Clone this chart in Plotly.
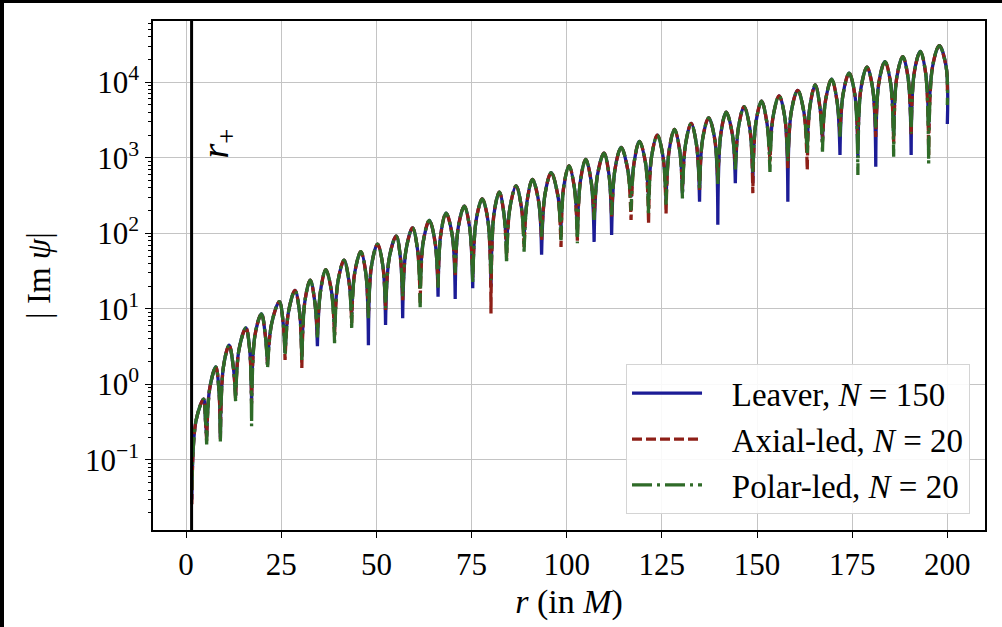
import plotly.graph_objects as go

# Radial range of the solution (in units of M)
r_plus = 1.44          # outer horizon
r_start = 1.5
r_end = 200.0

# Zeros of Im psi (radial positions of the cusps between lobes)
dip_r = [5.4, 9.0, 13.0, 17.2, 21.4, 26.0, 30.4, 34.5, 39.0, 43.5,
         47.9, 52.4, 56.9, 61.5, 66.2, 70.7, 75.3, 80.1, 84.2, 88.8,
         93.4, 98.5, 102.8, 107.2, 111.8, 116.9, 121.5, 126.1, 130.4, 134.9,
         139.7, 144.3, 148.9, 153.4, 158.1, 163.2, 167.2, 171.8, 176.5, 181.2,
         185.9, 190.5, 195.1]

# Lobe maxima (shared by the three solutions)
peak_r = [4.6, 7.8, 11.3, 15.7, 19.8, 24.5, 28.6, 32.6, 36.7, 41.5,
          45.9, 50.3, 55.2, 59.5, 63.9, 68.3, 73.1, 77.8, 82.3, 86.7,
          91.0, 95.9, 100.6, 105.0, 109.8, 114.3, 119.1, 123.8, 128.3, 132.7,
          137.3, 141.9, 146.6, 151.2, 155.8, 160.7, 165.3, 169.6, 174.2, 178.9,
          183.6, 188.3, 192.9, 197.9]
peak_val = [0.64, 1.7, 3.3, 5.6, 8.6, 12.5, 17.5, 24, 33, 44,
            57, 72, 92, 118, 148, 185, 228, 285, 350, 425,
            515, 635, 780, 950, 1150, 1370, 1650, 1990, 2380, 2850,
            3380, 4000, 4750, 5600, 6600, 7800, 9200, 11000, 13200, 15800,
            18700, 21800, 25500, 30500]

# Flanks of each lobe (left / right of the maximum) and their level
flank_l_r = [2.6, 6.2, 9.8, 13.9, 18.1, 22.5, 26.9, 31.2, 35.3, 39.9,
             44.3, 48.7, 53.4, 57.8, 62.3, 66.9, 71.5, 76.2, 80.9, 85.1,
             89.6, 94.3, 99.2, 103.6, 108.1, 112.7, 117.7, 122.3, 126.9, 131.2,
             135.7, 140.5, 145.1, 149.7, 154.2, 159.0, 163.9, 168.0, 172.6, 177.3,
             182.0, 186.7, 191.3, 196.1]
flank_r_r = [5.1, 8.6, 12.4, 16.7, 20.8, 25.5, 29.8, 33.8, 38.2, 42.8,
             47.2, 51.7, 56.3, 60.8, 65.4, 69.9, 74.5, 79.3, 83.5, 88.1,
             92.6, 97.6, 102.0, 106.4, 111.1, 116.0, 120.7, 125.3, 129.7, 134.1,
             138.9, 143.5, 148.1, 152.6, 157.3, 162.3, 166.5, 171.0, 175.7, 180.4,
             185.1, 189.7, 194.3, 199.7]
flank_val = [0.33, 0.88, 1.7, 2.9, 4.5, 6.5, 9.1, 12.5, 17, 23,
             30, 37, 48, 61, 77, 96, 119, 148, 182, 221,
             268, 330, 406, 494, 598, 712, 858, 1035, 1238, 1482,
             1758, 2080, 2470, 2910, 3430, 4060, 4780, 5720, 6860, 8220,
             9720, 11340, 13260, 15860]

# |Im psi| at r_start, at each zero (as resolved by each method) and at r_end
leaver_dips = [0.03, 0.2, 0.2, 0.7, 0.6, 1.9, 2.6, 2.3, 3.2, 5.5, 8.5,
               3.3, 6.1, 7.5, 21, 14.5, 13.5, 18.7, 19.7, 70, 90,
               52, 122, 110, 77, 95, 300, 305, 275, 340, 262,
               130, 460, 460, 1090, 262, 1480, 1700, 1090, 990, 760,
               2000, 1090, 2400, 2800]
axial_dips = [0.026, 0.18, 0.19, 0.65, 0.56, 1.8, 2.1, 1.65, 4.5, 4.3, 6.5,
              7.9, 9.7, 13, 11.8, 19.7, 28, 26, 8.7, 48, 66,
              81, 66, 80, 160, 166, 150, 135, 183, 360, 375,
              500, 800, 340, 890, 730, 690, 1620, 2200, 1620, 1880,
              1500, 2000, 1090, 7000]
polar_dips = [0.04, 0.16, 0.17, 0.6, 0.28, 1.63, 2.4, 2.0, 4.2, 3.5, 5.6,
              7.5, 10.2, 14.5, 10.5, 19, 30, 22, 24, 40, 57,
              90, 81, 74, 150, 175, 200, 185, 240, 290, 390,
              450, 700, 650, 650, 890, 1090, 1200, 1900, 590, 2500,
              1030, 2100, 840, 5000]

y_ticks = [0.1, 1, 10, 100, 1000, 10000]
y_tick_text = ["10<sup>\u22121</sup>", "10<sup>0</sup>", "10<sup>1</sup>",
               "10<sup>2</sup>", "10<sup>3</sup>", "10<sup>4</sup>"]
x_ticks = [0, 25, 50, 75, 100, 125, 150, 175, 200]

FONT = "Liberation Serif"


def lobes(dips):
    """Chain the lobes; every zero is doubled so the spline keeps a cusp there."""
    xs, ys = [r_start], [dips[0]]
    for i in range(len(peak_r)):
        xs += [flank_l_r[i], peak_r[i], flank_r_r[i]]
        ys += [flank_val[i], peak_val[i], flank_val[i]]
        if i < len(dip_r):
            xs += [dip_r[i], dip_r[i]]
            ys += [dips[i + 1], dips[i + 1]]
    xs.append(r_end)
    ys.append(dips[-1])
    return xs, ys


pad = "\u00a0\u00a0\u00a0"
series = [
    (pad + "Leaver, <i>N</i> = 150", leaver_dips, "#1c1c96", "solid"),
    (pad + "Axial-led, <i>N</i> = 20", axial_dips, "#8e1f17", "10px,4px"),
    (pad + "Polar-led, <i>N</i> = 20", polar_dips, "#2f6b28", "20px,5px,3px,5px"),
]

fig = go.Figure()
for k, (name, dips, color, dash) in enumerate(series):
    xs, ys = lobes(dips)
    fig.add_trace(go.Scatter(
        x=xs, y=ys, mode="lines", name=name, legendgroup=str(k),
        line=dict(color=color, width=3.3, dash=dash, shape="spline",
                  smoothing=1.0, simplify=False),
        hoverinfo="skip",
    ))

# Outer horizon
fig.add_shape(type="line", xref="x", yref="paper", x0=r_plus, x1=r_plus,
              y0=0, y1=1, line=dict(color="black", width=3), layer="above")
fig.add_annotation(x=8.4, y=3.19, xref="x", yref="y", text="<i>r</i><sub>+</sub>",
                   textangle=-90, showarrow=False,
                   font=dict(family=FONT, size=38, color="black"))

# Dark frame along the left and top edges of the page
PW, PH = 832.0, 509.0
fig.add_shape(type="rect", xref="paper", yref="paper", layer="above",
              x0=-153 / PW, x1=-149 / PW, y0=-97 / PH, y1=1 + 21 / PH,
              line=dict(width=0), fillcolor="black")
fig.add_shape(type="rect", xref="paper", yref="paper", layer="above",
              x0=-153 / PW, x1=1 + 17 / PW, y0=1 + 18 / PH, y1=1 + 21 / PH,
              line=dict(width=0), fillcolor="black")

axis_common = dict(
    showline=True, linecolor="black", linewidth=1.5, mirror=True,
    ticks="outside", ticklen=6, tickwidth=1.3, tickcolor="black",
    showgrid=True, gridcolor="#c4c4c4", gridwidth=1.3, zeroline=False,
    tickfont=dict(family=FONT, size=31, color="black"),
)

fig.update_xaxes(
    range=[-8.7, 209.9], tickmode="array", tickvals=x_ticks,
    title=dict(text="<i>r</i> (in <i>M</i>)", font=dict(family=FONT, size=34, color="black"),
               standoff=8),
    **axis_common,
)
fig.update_yaxes(
    type="log", range=[-1.927, 4.81], tickmode="array", tickvals=y_ticks,
    ticktext=y_tick_text,
    minor=dict(ticks="outside", ticklen=3.5, tickwidth=1, tickcolor="black",
               dtick="D1", showgrid=False),
    title=dict(text="| Im <i>\u03c8</i>|", font=dict(family=FONT, size=33, color="black"),
               standoff=24),
    **axis_common,
)

fig.update_layout(
    width=1002, height=627,
    margin=dict(l=153, r=17, t=21, b=97),
    paper_bgcolor="white", plot_bgcolor="white",
    font=dict(family=FONT, color="black"),
    showlegend=True,
    legend=dict(
        x=0.982, y=0.031, xanchor="right", yanchor="bottom",
        bgcolor="rgba(255,255,255,0.9)", bordercolor="#d4d4d4", borderwidth=1,
        font=dict(family=FONT, size=33, color="black"),
        itemwidth=70, tracegroupgap=0, traceorder="grouped",
    ),
)

fig.write_html("out.html")
